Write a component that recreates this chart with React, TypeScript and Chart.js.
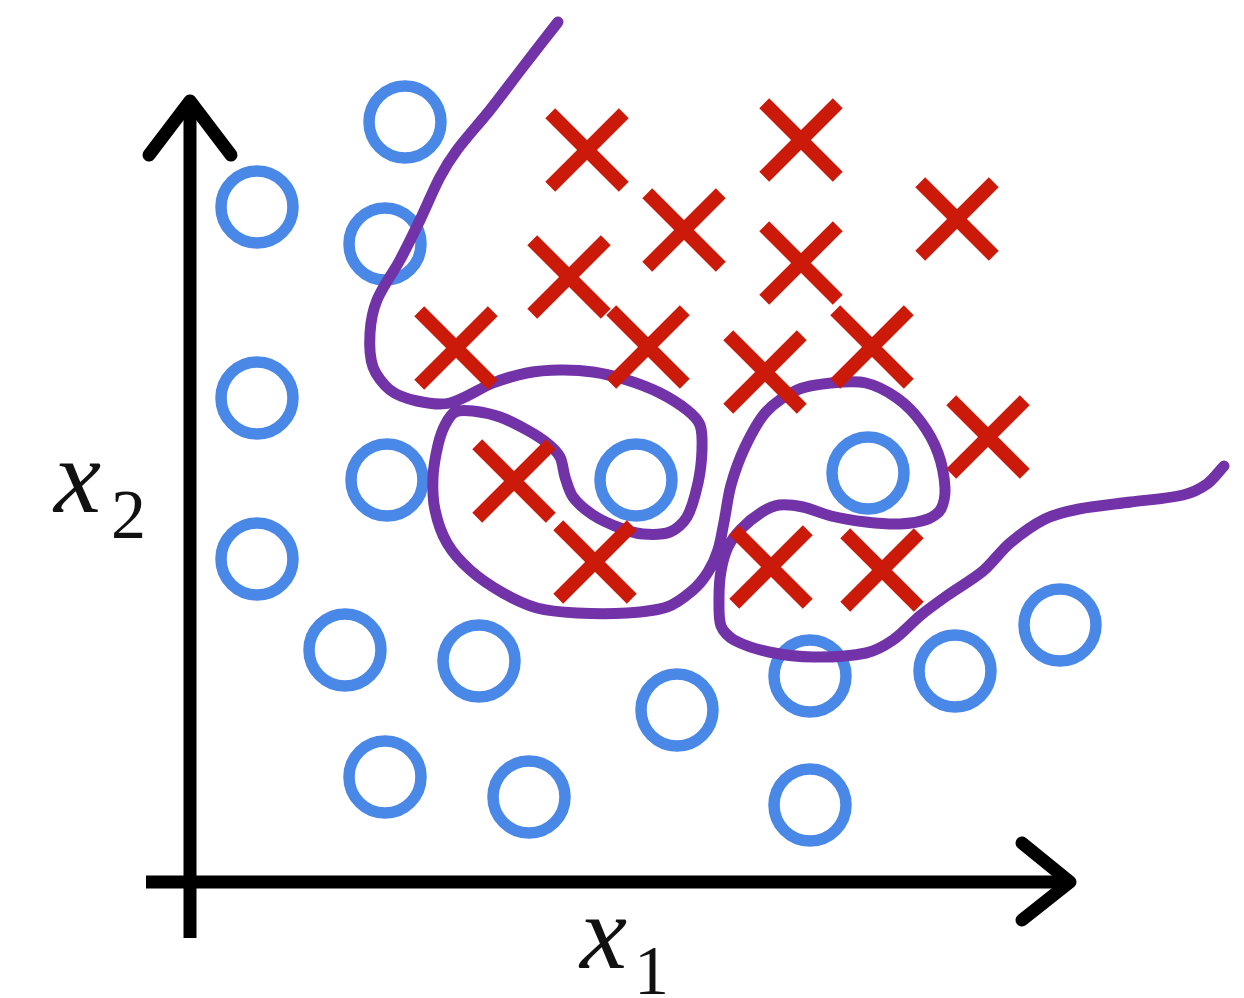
import React, { useEffect, useRef } from "react";
import { Chart, registerables } from "chart.js";

Chart.register(...registerables);

// Class "o" (blue circles): x1, x2 values
const circleX1 = [2.15, 0.67, 1.95, 0.67, 1.97, 4.46, 6.78, 0.67, 1.55, 2.89, 4.87, 6.20, 7.65, 8.70, 1.95, 3.39, 6.20];
const circleX2 = [7.60, 6.75, 6.38, 4.84, 4.02, 4.02, 4.09, 3.23, 2.32, 2.21, 1.72, 2.06, 2.11, 2.57, 1.05, 0.85, 0.77];

// Class "x" (red crosses): x1, x2 values
const crossX1 = [3.97, 6.11, 4.94, 6.11, 7.67, 3.79, 2.66, 4.58, 5.75, 6.82, 7.98, 3.24, 4.05, 5.81, 6.92];
const crossX2 = [7.32, 7.42, 6.52, 6.19, 6.63, 6.05, 5.34, 5.35, 5.10, 5.35, 4.45, 4.01, 3.20, 3.15, 3.12];

// Decision boundary (purple hand-drawn curve)
const boundaryX1 = [
  3.68, 3.33, 3.00, 2.67, 2.50, 2.30, 2.10, 1.87, 1.80, 1.83, 2.00, 2.27, 2.60,
  3.03, 3.37, 3.70, 4.03, 4.37, 4.70, 4.97, 5.10, 5.12, 5.08, 4.97, 4.80, 4.53, 4.30,
  4.03, 3.83, 3.75, 3.70, 3.57, 3.37, 3.10, 2.83, 2.65,
  2.55, 2.48, 2.43, 2.45, 2.57, 2.80, 3.13, 3.47, 3.87, 4.37, 4.77, 5.03, 5.18, 5.28,
  5.34, 5.41, 5.55, 5.76, 6.07, 6.41, 6.76, 7.07, 7.31, 7.48, 7.55, 7.51, 7.38, 7.10,
  6.76, 6.41, 6.13, 5.89, 5.72, 5.51, 5.38, 5.31, 5.29, 5.31, 5.44, 5.79, 6.24, 6.76,
  7.03, 7.31, 7.58, 7.93, 8.20, 8.55, 8.89, 9.41, 9.93, 10.17, 10.34,
];
const boundaryX2 = [
  8.60, 8.15, 7.72, 7.32, 7.05, 6.62, 6.22, 5.82, 5.49, 5.15, 4.92, 4.81, 4.79,
  4.99, 5.09, 5.12, 5.10, 5.02, 4.89, 4.72, 4.57, 4.32, 3.99, 3.65, 3.50, 3.48, 3.54,
  3.67, 3.85, 4.05, 4.25, 4.39, 4.52, 4.65, 4.71, 4.70,
  4.57, 4.37, 4.05, 3.72, 3.39, 3.12, 2.89, 2.74, 2.69, 2.69, 2.75, 2.92, 3.10, 3.32,
  3.60, 3.97, 4.35, 4.70, 4.92, 4.99, 4.99, 4.84, 4.60, 4.29, 3.94, 3.73, 3.63, 3.58,
  3.60, 3.66, 3.75, 3.77, 3.70, 3.53, 3.35, 3.11, 2.84, 2.56, 2.42, 2.30, 2.25, 2.29,
  2.42, 2.67, 2.87, 3.11, 3.39, 3.63, 3.73, 3.80, 3.87, 3.98, 4.16,
];

// Axis arrows (shafts and heads)
const xShaftX1 = [-0.44, 8.80];
const xShaftX2 = [0, 0];
const xHeadX1 = [8.32, 8.80, 8.32];
const xHeadX2 = [0.39, 0, -0.38];
const yShaftX1 = [0, 0];
const yShaftX2 = [-0.56, 7.81];
const yHeadX1 = [-0.41, 0, 0.41];
const yHeadX2 = [7.27, 7.81, 7.27];

const axisLabels = ["x", "1", "x", "2"];

const BLUE = "#4a88e8";
const RED = "#cc1a0a";
const PURPLE = "#7232a8";
const BLACK = "#000000";

const pts = (xs: number[], ys: number[]) => xs.map((x, i) => ({ x, y: ys[i] }));

const labelPlugin = {
  id: "axisLabels",
  afterDatasetsDraw(chart: any) {
    const { ctx, scales } = chart;
    const sx = scales.x;
    const sy = scales.y;
    ctx.save();
    ctx.fillStyle = "#111";
    ctx.textBaseline = "alphabetic";
    ctx.textAlign = "left";
    // x1 label
    ctx.font = "italic 106px 'Liberation Serif'";
    ctx.fillText(axisLabels[0], sx.getPixelForValue(3.90), sy.getPixelForValue(-0.86));
    ctx.font = "70px 'Liberation Serif'";
    ctx.fillText(axisLabels[1], sx.getPixelForValue(4.44), sy.getPixelForValue(-1.12));
    // x2 label
    ctx.font = "italic 106px 'Liberation Serif'";
    ctx.fillText(axisLabels[2], sx.getPixelForValue(-1.36), sy.getPixelForValue(3.70));
    ctx.font = "70px 'Liberation Serif'";
    ctx.fillText(axisLabels[3], sx.getPixelForValue(-0.79), sy.getPixelForValue(3.44));
    ctx.restore();
  },
};

export default function App() {
  const canvasRef = useRef<HTMLCanvasElement | null>(null);

  useEffect(() => {
    document.body.style.margin = "0";
    const canvas = canvasRef.current;
    if (!canvas) return;

    const axisStyle = (cap: string) => ({
      showLine: true,
      borderColor: BLACK,
      borderWidth: 13,
      pointRadius: 0,
      tension: 0,
      borderCapStyle: cap,
      borderJoinStyle: "round",
      fill: false,
      order: 4,
    });

    const chart = new Chart(canvas, {
      type: "scatter",
      data: {
        datasets: [
          {
            label: "x",
            data: pts(crossX1, crossX2),
            pointStyle: "crossRot",
            pointRadius: 52,
            pointBorderWidth: 14,
            pointBorderColor: RED,
            pointBackgroundColor: RED,
            showLine: false,
            order: 0,
          },
          {
            label: "boundary",
            data: pts(boundaryX1, boundaryX2),
            showLine: true,
            borderColor: PURPLE,
            borderWidth: 11,
            pointRadius: 0,
            tension: 0.3,
            borderCapStyle: "round",
            borderJoinStyle: "round",
            fill: false,
            order: 1,
          },
          {
            label: "o",
            data: pts(circleX1, circleX2),
            pointStyle: "circle",
            pointRadius: 36,
            pointBorderWidth: 11.5,
            pointBorderColor: BLUE,
            pointBackgroundColor: "rgba(0,0,0,0)",
            showLine: false,
            order: 2,
          },
          { label: "xshaft", data: pts(xShaftX1, xShaftX2), ...axisStyle("butt") } as any,
          { label: "xhead", data: pts(xHeadX1, xHeadX2), ...axisStyle("round") } as any,
          { label: "yshaft", data: pts(yShaftX1, yShaftX2), ...axisStyle("butt") } as any,
          { label: "yhead", data: pts(yHeadX1, yHeadX2), ...axisStyle("round") } as any,
        ],
      },
      options: {
        animation: false,
        responsive: false,
        devicePixelRatio: 1,
        events: [],
        layout: { padding: 0, autoPadding: false },
        plugins: {
          legend: { display: false },
          tooltip: { enabled: false },
          title: { display: false },
        },
        elements: { line: { capBezierPoints: false } },
        scales: {
          x: { type: "linear", min: -1.9, max: 10.54, display: false },
          y: { type: "linear", min: -1.16, max: 8.82, display: false },
        },
      } as any,
      plugins: [labelPlugin],
    });

    return () => {
      chart.destroy();
    };
  }, []);

  return (
    <div style={{ position: "fixed", left: 0, top: 0, width: 1244, height: 998, background: "#fff" }}>
      <canvas ref={canvasRef} width={1244} height={998} style={{ display: "block" }} />
    </div>
  );
}
